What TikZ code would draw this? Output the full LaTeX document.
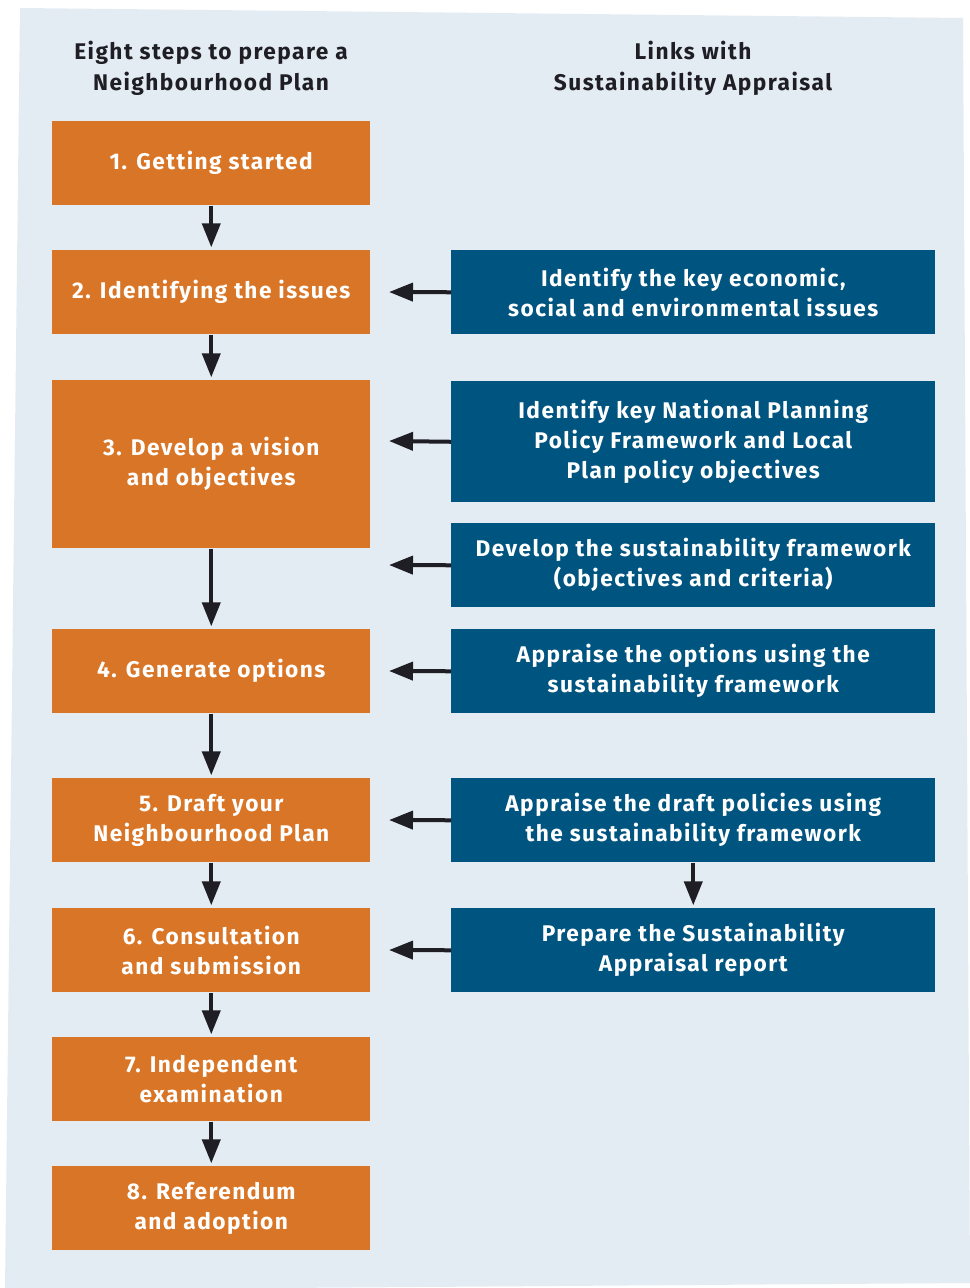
\documentclass[tikz,border=0pt]{standalone}
\usepackage{fontspec}
\setmainfont[LetterSpace=6.5]{Fira Sans}
\usetikzlibrary{arrows.meta}
\definecolor{bgblue}{HTML}{E3ECF2}
\definecolor{stepor}{HTML}{D97526}
\definecolor{sablue}{HTML}{005480}
\definecolor{ink}{HTML}{1E1E24}
\tikzset{
  stepbox/.style={fill=stepor, draw=none, text=white, font=\bfseries\fontsize{17}{22.5}\selectfont, align=center, anchor=north west, inner sep=0pt},
  sabox/.style={fill=sablue, draw=none, text=white, font=\bfseries\fontsize{17}{22.5}\selectfont, align=center, anchor=north west, inner sep=0pt},
  header/.style={text=ink, font=\bfseries\fontsize{17}{23.25}\selectfont, align=center},
  arr/.style={draw=ink, line width=3pt, -{Triangle[length=18pt,width=13.5pt]}, shorten >=2pt},
}
\begin{document}
\begin{tikzpicture}[x=0.75pt,y=-0.75pt]
\useasboundingbox (0,0) rectangle (970,1288);
\fill[bgblue] (20,8) -- (963,18) -- (970,1283) -- (5,1290) -- cycle;
% headers
\node[header] (h1) at (211,68) {Eight steps to prepare a\\Neighbourhood Plan};
\node[header] (h2) at (693,68) {Links with\\Sustainability Appraisal};
% steps
\node[stepbox, minimum width=238.5pt, minimum height=63pt] (s1) at (52,121) {1. Getting started};
\node[stepbox, minimum width=238.5pt, minimum height=63pt] (s2) at (52,250) {2. Identifying the issues};
\node[stepbox, minimum width=238.5pt, minimum height=126pt] (s3) at (52,380) {3. Develop a vision\\and objectives};
\node[stepbox, minimum width=238.5pt, minimum height=63pt] (s4) at (52,629) {4. Generate options};
\node[stepbox, minimum width=238.5pt, minimum height=63pt] (s5) at (52,778) {5. Draft your\\Neighbourhood Plan};
\node[stepbox, minimum width=238.5pt, minimum height=63pt] (s6) at (52,908) {6. Consultation\\and submission};
\node[stepbox, minimum width=238.5pt, minimum height=63pt] (s7) at (52,1037) {7. Independent\\examination};
\node[stepbox, minimum width=238.5pt, minimum height=63pt] (s8) at (52,1166) {8. Referendum\\and adoption};
% SA boxes
\node[sabox, minimum width=363pt, minimum height=63pt] (a) at (451,250) {Identify the key economic,\\social and environmental issues};
\node[sabox, minimum width=363pt, minimum height=90.75pt] (b) at (451,381) {Identify key National Planning\\Policy Framework and Local\\Plan policy objectives};
\node[sabox, minimum width=363pt, minimum height=63pt] (c) at (451,523) {Develop the sustainability framework\\(objectives and criteria)};
\node[sabox, minimum width=363pt, minimum height=63pt] (d) at (451,629) {Appraise the options using the\\sustainability framework};
\node[sabox, minimum width=363pt, minimum height=63pt] (e) at (451,778) {Appraise the draft policies using\\the sustainability framework};
\node[sabox, minimum width=363pt, minimum height=63pt] (f) at (451,908) {Prepare the Sustainability\\Appraisal report};
% vertical arrows
\draw[arr] (s1) -- (s2);
\draw[arr] (s2) -- (s3);
\draw[arr] (s3) -- (s4);
\draw[arr] (s4) -- (s5);
\draw[arr] (s5) -- (s6);
\draw[arr] (s6) -- (s7);
\draw[arr] (s7) -- (s8);
\draw[arr] (e) -- (f);
% horizontal arrows
\coordinate (ta) at (389,292);
\coordinate (tb) at (389,441);
\coordinate (tc) at (389,565);
\coordinate (td) at (389,671);
\coordinate (te) at (389,820);
\coordinate (tf) at (389,950);
\draw[arr, shorten >=0pt] (a.west) -- (ta);
\draw[arr, shorten >=0pt] (b.west) -- (tb);
\draw[arr, shorten >=0pt] (c.west) -- (tc);
\draw[arr, shorten >=0pt] (d.west) -- (td);
\draw[arr, shorten >=0pt] (e.west) -- (te);
\draw[arr, shorten >=0pt] (f.west) -- (tf);
\end{tikzpicture}
\end{document}
